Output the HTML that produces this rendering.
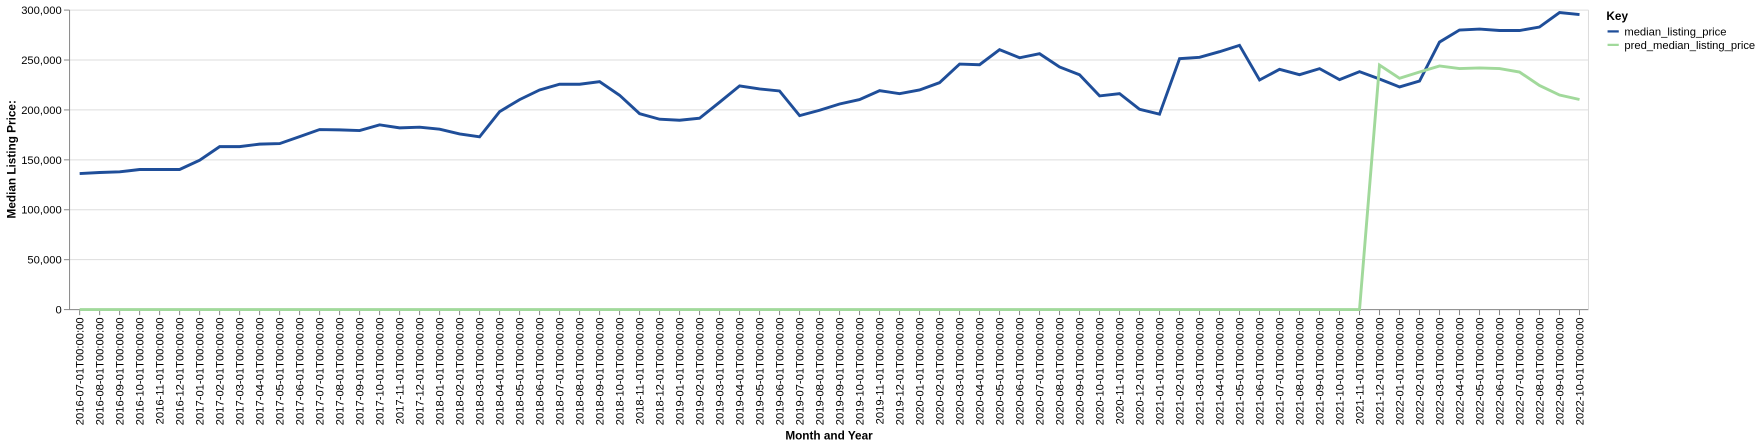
<!DOCTYPE html>
<html><head><meta charset="utf-8"><style>
html,body{margin:0;padding:0;background:#fff;}
svg{display:block;font-family:"Liberation Sans",Arial,sans-serif;}
</style></head><body>
<svg id="chart" width="1759" height="447" viewBox="0 0 1568 398.5" preserveAspectRatio="none"></svg>
<script>
const months = [];
for (let y = 2016, m = 7; !(y === 2022 && m === 11); ) {
  months.push(y + '-' + String(m).padStart(2, '0') + '-01T00:00:00');
  m++; if (m > 12) { m = 1; y++; }
}
const medianValues = [136.3,137.3,138,140.3,140.3,140.3,149.7,163.3,163.3,165.7,166.3,173.3,180.3,180,179.3,185,182,182.7,180.7,176,173,198.3,210.3,220,225.7,225.7,228.3,214.7,196.3,190.7,189.7,191.7,207.7,224,221,219,194.3,199.7,206,210.3,219.3,216.3,220,227.3,246,245.3,260.3,252.3,256.3,243,235.3,214,216.3,200.7,195.7,251.3,252.7,258.3,264.7,230,240.7,235.3,241.3,230.3,238.3,231,223,229,268,280,281,279.5,279.5,283,297.5,295.5].map(v=>v*1000);
const predValues = [0,0,0,0,0,0,0,0,0,0,0,0,0,0,0,0,0,0,0,0,0,0,0,0,0,0,0,0,0,0,0,0,0,0,0,0,0,0,0,0,0,0,0,0,0,0,0,0,0,0,0,0,0,0,0,0,0,0,0,0,0,0,0,0,0,245,231.7,238,244,241.5,242,241.5,238,224.5,215,210.5].map(v=>v*1000);
const yTicks = [0,50000,100000,150000,200000,250000,300000];

const NS='http://www.w3.org/2000/svg';
const svg=document.getElementById('chart');
const L=62,R=1416,T=9,B=276;
const x=i=>71+i*(1408-71)/(months.length-1);
const y=v=>B-(v/300000)*(B-T);
function mk(tag,attrs,parent){const e=document.createElementNS(NS,tag);for(const k in attrs)e.setAttribute(k,attrs[k]);(parent||svg).appendChild(e);return e;}

const grid=mk('g',{});


yTicks.forEach(t=>{
  const l=mk('line',{x1:L,x2:R,y1:y(t),y2:y(t),stroke:'#ddd','stroke-width':0.9},grid);
  
  
  const tk=mk('line',{x1:L-5,x2:L,y1:y(t),y2:y(t),stroke:'#888','stroke-width':0.9});
  
  
  const tx=mk('text',{x:L-7,y:y(t)+3.5,'text-anchor':'end','font-size':10,fill:'#000'});
  tx.textContent=t.toLocaleString('en-US');
  
  
});
const ya=mk('line',{x1:L,x2:L,y1:T,y2:B,stroke:'#888','stroke-width':0.9});


const xa=mk('line',{x1:L,x2:R,y1:B,y2:B,stroke:'#888','stroke-width':0.9});


const rb=mk('line',{x1:R,x2:R,y1:T,y2:B,stroke:'#ddd','stroke-width':0.9});



months.forEach((m,i)=>{
  const tk=mk('line',{x1:x(i),x2:x(i),y1:B,y2:B+5,stroke:'#888','stroke-width':0.9});
  
  
  const tx=mk('text',{transform:`translate(${x(i)+3.5},${B+7}) rotate(-90)`,'text-anchor':'end','font-size':10,fill:'#000'});
  tx.textContent=m;
  
  
});

function line(vals,color,name){
  const p=mk('path',{d:vals.map((v,i)=>(i?'L':'M')+x(i).toFixed(1)+','+y(v).toFixed(1)).join(''),fill:'none',stroke:color,'stroke-width':2.6,'stroke-linejoin':'miter'});
  
  
}
line(medianValues,'#1f4e99','median-line');
line(predValues,'#a1d99b','pred-line');

const yt=mk('text',{transform:`translate(14,142) rotate(-90)`,'text-anchor':'middle','font-size':10.5,'font-weight':'bold'});
yt.textContent='Median Listing Price:';


const xt=mk('text',{x:739,y:392,'text-anchor':'middle','font-size':10.5,'font-weight':'bold'});
xt.textContent='Month and Year';



const lg=mk('g',{});


const lt=mk('text',{x:1432,y:18,'font-size':10.5,'font-weight':'bold'},lg);
lt.textContent='Key';


[['median_listing_price','#1f4e99',28],['pred_median_listing_price','#a1d99b',40]].forEach(([n,c,yy])=>{
  const g=mk('g',{},lg);
  
  
  mk('line',{x1:1433,x2:1443,y1:yy,y2:yy,stroke:c,'stroke-width':2},g);
  const t=mk('text',{x:1448,y:yy+3.5,'font-size':10},g);
  t.textContent=n;
});
</script>
</body></html>
